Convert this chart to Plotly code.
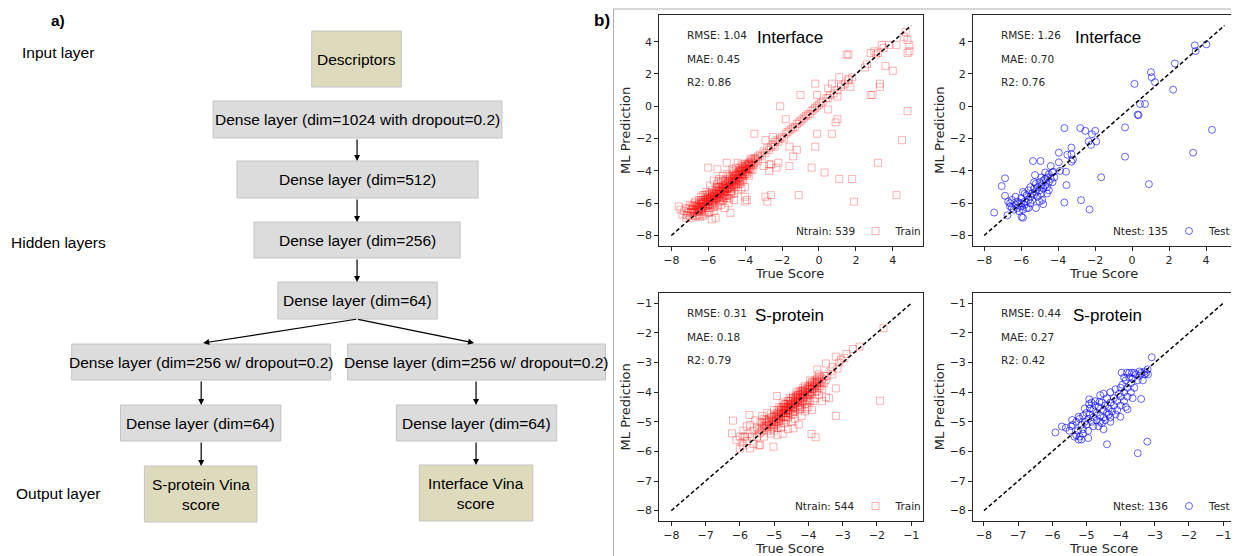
import plotly.graph_objects as go

W, H = 1236, 556

# ---------------- data ----------------
interface_train = [
    (-7.6,-6.2),(-7.5,-6.4),(-7.4,-6.7),(-7.3,-6.5),(-7.2,-6.9),(-7.2,-6.3),(-7.1,-6.6),(-7.0,-6.8),(-7.0,-6.1),
    (-6.9,-6.4),(-6.9,-6.9),(-6.8,-6.2),(-6.8,-6.6),(-6.7,-5.9),(-6.7,-6.4),(-6.7,-6.8),(-6.6,-6.1),(-6.6,-6.5),
    (-6.5,-5.8),(-6.5,-6.3),(-6.5,-6.7),(-6.4,-6.0),(-6.4,-6.4),(-6.4,-5.6),(-6.3,-6.2),(-6.3,-5.8),(-6.3,-6.8),
    (-6.2,-6.0),(-6.2,-5.5),(-6.2,-6.5),(-6.1,-5.9),(-6.1,-6.3),(-6.1,-5.3),(-6.0,-5.7),(-6.0,-6.1),(-6.0,-6.6),
    (-6.0,-3.8),(-5.9,-5.5),(-5.9,-5.9),(-5.9,-6.3),(-5.9,-4.9),(-5.8,-5.2),(-5.8,-5.7),(-5.8,-6.1),(-5.8,-7.0),
    (-5.7,-5.4),(-5.7,-5.8),(-5.7,-6.5),(-5.7,-4.6),(-5.6,-5.1),(-5.6,-5.5),(-5.6,-6.0),(-5.6,-6.9),(-5.5,-5.3),
    (-5.5,-5.7),(-5.5,-4.8),(-5.5,-3.9),(-5.5,-6.2),(-5.4,-5.0),(-5.4,-5.4),(-5.4,-5.9),(-5.4,-4.5),(-5.3,-5.2),
    (-5.3,-5.6),(-5.3,-4.7),(-5.3,-6.1),(-5.2,-4.9),(-5.2,-5.3),(-5.2,-5.8),(-5.2,-4.3),(-5.1,-5.1),(-5.1,-5.5),
    (-5.1,-4.6),(-5.1,-6.3),(-5.0,-4.8),(-5.0,-5.2),(-5.0,-5.7),(-5.0,-3.5),(-5.0,-4.2),(-4.9,-4.6),(-4.9,-5.0),
    (-4.9,-5.5),(-4.9,-6.0),(-4.8,-4.4),(-4.8,-4.9),(-4.8,-5.3),(-4.8,-6.6),(-4.7,-4.3),(-4.7,-4.7),(-4.7,-5.1),
    (-4.7,-3.9),(-4.6,-4.5),(-4.6,-4.9),(-4.6,-5.4),(-4.6,-5.8),(-4.5,-4.2),(-4.5,-4.6),(-4.5,-5.0),(-4.5,-3.8),
    (-4.4,-4.1),(-4.4,-4.5),(-4.4,-3.5),(-4.4,-5.2),(-4.3,-4.0),(-4.3,-4.4),(-4.3,-4.8),(-4.2,-3.9),(-4.2,-4.2),
    (-4.2,-3.6),(-4.2,-5.1),(-4.1,-3.8),(-4.1,-4.1),(-4.1,-4.6),(-4.0,-3.7),(-4.0,-4.0),(-4.0,-5.0),(-4.0,-5.6),
    (-4.0,-5.9),(-3.9,-3.6),(-3.9,-3.9),(-3.9,-5.8),(-3.8,-3.5),(-3.8,-3.8),(-3.8,-4.3),(-3.7,-3.4),(-3.7,-3.7),
    (-3.6,-3.3),(-3.6,-3.6),(-3.5,-3.2),(-3.5,-3.5),(-3.5,-1.7),(-3.4,-3.3),(-3.3,-3.1),(-3.3,-3.4),(-3.2,-3.0),
    (-3.1,-3.1),(-3.0,-2.8),(-3.0,-3.7),(-2.9,-2.9),(-2.9,-5.6),(-2.9,-2.1),(-2.8,-2.6),(-2.8,-5.9),(-2.7,-2.7),
    (-2.7,-3.6),(-2.7,-4.0),(-2.6,-2.5),(-2.6,-5.5),(-2.6,-3.6),(-2.5,-2.4),(-2.5,-1.9),(-2.4,-2.2),(-2.4,-2.5),
    (-2.3,-2.1),(-2.3,-3.8),(-2.2,-2.2),(-2.2,-3.5),(-2.1,-2.0),(-2.1,0.0),(-2.0,-1.9),(-1.9,-2.0),(-1.8,-1.7),
    (-1.8,-0.8),(-1.7,-1.6),(-1.6,-1.5),(-1.6,-2.5),(-1.5,-1.4),(-1.6,-3.7),(-1.4,-1.3),(-1.4,-3.1),(-1.3,-1.3),
    (-1.2,-1.1),(-1.2,-2.7),(-1.1,-1.0),(-1.0,-0.9),(-1.0,0.7),(-0.9,-0.8),(-1.1,-5.5),(-0.8,-0.7),(-0.7,-0.6),
    (-0.6,-0.5),(-0.5,-0.5),(-0.4,-0.3),(-0.4,-3.8),(-0.3,-0.2),(-0.2,-0.1),(-0.2,1.4),(-0.1,0.0),(-0.1,0.7),
    (-0.1,-1.7),(-0.2,-2.5),(0.0,0.1),(0.1,0.2),(0.2,0.3),(0.5,-0.2),(0.3,-4.1),(0.4,0.5),(0.5,1.1),(0.5,0.5),
    (0.6,0.7),(0.7,1.4),(0.7,-1.7),(0.8,0.8),(0.9,-1.0),(1.0,-0.8),(1.0,0.6),(1.0,1.0),(1.1,1.8),(1.1,-4.5),
    (1.2,1.2),(1.2,1.3),(1.4,1.4),(1.5,3.2),(1.6,3.2),(1.6,1.6),(1.6,1.7),(1.7,1.2),(1.8,1.8),(1.8,-4.5),
    (1.9,-5.9),(2.5,2.4),(2.6,2.6),(2.8,0.7),(2.9,0.7),(2.8,3.3),(3.0,3.4),(3.1,3.2),(3.2,3.3),(3.3,1.4),(3.3,1.2),
    (3.2,-3.5),(3.4,3.8),(3.5,3.6),(3.6,2.5),(3.8,3.8),(4.0,2.2),(4.2,3.8),(4.2,-5.5),(4.5,-2.1),(4.7,4.6),
    (4.8,4.1),(4.9,3.8),(4.8,3.3),(4.9,3.4),(4.8,-0.3),(4.6,4.3),
    (-6.95,-6.55),(-6.85,-6.35),(-6.75,-6.55),(-6.65,-6.25),(-6.55,-6.45),(-6.45,-6.15),(-6.35,-6.35),
    (-6.25,-5.95),(-6.15,-6.15),(-6.05,-5.85),(-5.95,-6.05),(-5.85,-5.65),(-5.75,-5.95),(-5.65,-5.45),
    (-5.55,-5.65),(-5.45,-5.25),(-5.35,-5.45),(-5.25,-5.05),(-5.15,-5.25),(-5.05,-4.85),(-4.95,-5.05),
    (-4.85,-4.65),(-4.75,-4.85),(-4.65,-4.45),(-4.55,-4.65),(-4.45,-4.25),(-4.35,-4.45),(-4.25,-4.05),
    (-4.15,-4.25),(-4.05,-3.85),(-3.95,-4.05),(-3.85,-3.65),(-3.75,-3.85),(-3.65,-3.45),(-3.55,-3.65),
    (-3.45,-3.25),(-6.9,-6.15),(-6.6,-6.75),(-6.3,-5.5),(-6.2,-6.7),(-6.05,-5.45),(-5.95,-6.55),(-5.8,-5.35),
    (-5.65,-6.15),(-5.5,-5.0),(-5.35,-5.85),(-5.2,-4.6),(-5.05,-5.55),(-4.9,-4.3),(-4.75,-5.25),(-4.6,-4.1),
    (-4.45,-4.85),(-4.3,-3.8),(-4.15,-4.5),(-4.0,-3.55),(-3.85,-4.1),(-3.7,-3.25),(-3.6,-3.95),
    (-6.5,-6.05),(-6.4,-6.25),(-6.3,-5.95),(-6.2,-6.2),(-6.1,-5.75),(-6.0,-5.95),(-5.9,-5.7),(-5.8,-5.9),
    (-5.7,-5.55),(-5.6,-5.7),(-5.5,-5.4),(-5.4,-5.55),(-5.3,-5.25),(-5.2,-5.45),(-5.1,-4.95),(-5.0,-5.1),
    (-4.9,-4.75),(-4.8,-5.0),(-4.7,-4.55),(-4.6,-4.75),(-4.5,-4.35),(-4.4,-4.6),(-4.3,-4.2),(-4.2,-4.4),
    (-4.1,-3.95),(-4.0,-4.2),
    (-6.8,-6.45),(-6.7,-6.15),(-6.6,-6.35),(-6.5,-6.55),(-6.4,-5.85),(-6.3,-6.05),(-6.2,-5.8),(-6.1,-6.05),
    (-6.0,-5.6),(-5.9,-5.8),(-5.8,-5.55),(-5.7,-5.7),(-5.6,-5.4),(-5.5,-5.6),(-5.4,-5.2),(-5.3,-5.4),
    (-5.2,-5.1),(-5.1,-5.3),(-5.0,-4.9),(-4.9,-5.1),(-4.8,-4.7),(-4.7,-4.9),(-4.6,-4.6),(-4.5,-4.8),
    (-4.4,-4.3),(-4.3,-4.6),(-4.2,-4.0),(-4.1,-4.3),(-4.0,-3.9),(-3.9,-4.2),(-3.8,-3.6),(-3.7,-3.9),
    (-6.55,-6.2),(-6.35,-6.5),(-6.15,-5.65),(-5.95,-5.4),(-5.75,-6.25),(-5.55,-5.2),(-5.35,-5.0),(-5.15,-5.7),
    (-4.95,-4.5),(-4.75,-5.45),(-4.55,-4.3),(-4.35,-4.1),(-4.15,-3.7),(-3.95,-3.75),(-3.75,-3.55),(-5.45,-4.65),
    (-5.25,-5.6),(-4.85,-5.7),(-4.65,-4.0),(-4.25,-4.7),(-6.75,-6.0),(-7.05,-6.35),(-7.15,-6.75),(-6.45,-6.85),
]

interface_test = [
    (-7.46,-6.58),(-7.05,-4.94),(-6.87,-4.46),(-6.87,-5.54),(-6.74,-6.75),(-6.7,-5.9),(-6.6,-6.2),(-6.6,-6.0),
    (-6.5,-6.3),(-6.5,-5.8),(-6.4,-6.4),(-6.3,-6.1),(-6.3,-5.6),(-6.2,-6.3),(-6.2,-5.9),(-6.1,-6.0),(-6.1,-6.5),
    (-6.0,-6.2),(-6.0,-5.7),(-6.0,-6.0),(-5.97,-6.85),(-5.9,-6.9),(-5.9,-5.3),(-5.9,-6.4),(-5.8,-5.9),(-5.8,-6.1),
    (-5.8,-5.4),(-5.7,-5.5),(-5.7,-6.3),(-5.6,-5.8),(-5.6,-5.2),(-5.6,-6.3),(-5.5,-5.6),(-5.5,-6.0),(-5.5,-5.0),
    (-5.4,-5.4),(-5.4,-5.8),(-5.36,-3.39),(-5.3,-5.1),(-5.3,-5.5),(-5.3,-4.7),(-5.25,-4.26),(-5.2,-5.3),(-5.2,-4.8),
    (-5.2,-6.3),(-5.1,-5.0),(-5.1,-5.6),(-5.0,-5.2),(-5.0,-4.7),(-5.0,-5.9),(-4.95,-3.39),(-4.9,-4.9),(-4.9,-5.4),
    (-4.9,-4.4),(-4.86,-5.81),(-4.81,-6.06),(-4.8,-4.6),(-4.8,-5.1),(-4.7,-4.5),(-4.7,-4.9),(-4.7,-4.1),(-4.6,-4.4),
    (-4.6,-5.0),(-4.6,-5.4),(-4.5,-4.2),(-4.5,-4.7),(-4.5,-5.2),(-4.4,-4.5),(-4.4,-3.7),(-4.3,-4.1),(-4.3,-4.7),
    (-4.27,-4.05),(-4.2,-4.4),(-3.96,-2.87),(-3.96,-3.47),(-3.9,-4.0),(-3.66,-1.35),(-3.66,-5.96),(-3.57,-4.05),
    (-3.55,-4.88),(-3.5,-3.0),(-3.28,-2.56),(-3.28,-2.97),(-3.28,-3.43),(-3.2,-3.3),(-2.8,-1.35),(-2.76,-5.81),
    (-2.53,-1.52),(-2.35,-2.18),(-2.3,-6.39),(-2.22,-2.39),(-2.17,-1.73),(-1.99,-1.52),(-1.94,-2.18),(-1.67,-4.4),
    (-0.38,-1.31),(-0.38,-3.12),(0.13,1.39),(0.3,-0.52),(0.35,-0.55),(0.43,0.14),(0.7,0.14),(0.91,-4.82),
    (1.02,2.11),(1.06,1.8),(1.24,1.49),(2.22,1.03),(2.31,2.65),(3.3,-2.87),(3.39,3.77),(3.44,3.42),(4.02,3.83),
    (4.32,-1.46),
]

sprotein_train = [
    (-6.2,-4.96),(-6.23,-5.39),(-6.1,-5.61),(-6.0,-5.5),(-6.0,-5.9),(-5.95,-5.7),(-5.9,-5.3),(-5.9,-5.8),
    (-5.89,-5.5),(-5.85,-5.5),(-5.8,-5.15),(-5.8,-5.65),(-5.75,-5.4),(-5.72,-4.77),(-5.7,-5.9),(-5.7,-5.1),
    (-5.65,-5.5),(-5.6,-5.3),(-5.6,-5.75),(-5.55,-4.95),(-5.5,-5.2),(-5.5,-5.5),(-5.45,-5.8),(-5.41,-5.78),
    (-5.4,-5.0),(-5.4,-5.35),(-5.35,-4.8),(-5.3,-5.15),(-5.3,-5.5),(-5.25,-4.95),(-5.2,-5.3),(-5.2,-4.7),
    (-5.15,-5.05),(-5.1,-5.4),(-5.1,-4.85),(-5.05,-5.2),(-5.02,-5.84),(-5.0,-4.6),(-5.0,-4.95),(-5.0,-5.3),
    (-4.95,-5.1),(-4.92,-4.13),(-4.9,-4.75),(-4.9,-5.45),(-4.85,-4.9),(-4.85,-4.5),(-4.8,-5.2),(-4.8,-4.65),
    (-4.75,-4.85),(-4.75,-5.4),(-4.7,-4.4),(-4.7,-4.7),(-4.7,-5.05),(-4.65,-4.55),(-4.6,-4.85),(-4.6,-4.3),
    (-4.6,-5.25),(-4.55,-4.6),(-4.5,-4.45),(-4.5,-4.75),(-4.5,-5.0),(-4.45,-4.2),(-4.44,-5.22),(-4.4,-4.55),
    (-4.4,-4.35),(-4.4,-4.9),(-4.35,-4.1),(-4.3,-4.45),(-4.3,-4.25),(-4.28,-5.09),(-4.25,-4.6),(-4.2,-4.0),
    (-4.2,-4.3),(-4.2,-4.8),(-4.15,-4.15),(-4.1,-3.95),(-4.1,-4.4),(-4.1,-4.65),(-4.05,-4.2),(-4.0,-3.85),
    (-4.0,-4.05),(-4.0,-4.5),(-3.95,-4.3),(-3.91,-5.41),(-3.9,-3.8),(-3.9,-4.0),(-3.9,-4.6),(-3.85,-3.9),
    (-3.8,-3.7),(-3.8,-4.2),(-3.79,-5.52),(-3.75,-3.95),(-3.74,-3.23),(-3.7,-3.6),(-3.7,-4.1),(-3.65,-3.8),
    (-3.6,-3.55),(-3.6,-4.3),(-3.55,-3.7),(-3.49,-3.03),(-3.49,-4.17),(-3.45,-3.45),(-3.4,-4.2),(-3.35,-3.3),
    (-3.3,-3.4),(-3.2,-2.8),(-3.2,-3.87),(-3.2,-4.8),(-3.15,-3.2),(-3.05,-2.9),(-2.89,-2.71),(-2.7,-2.54),
    (-2.51,-2.46),(-1.91,-4.29),(-1.81,-1.84),
    (-4.95,-4.9),(-4.85,-4.75),(-4.75,-4.6),(-4.65,-4.7),(-4.55,-4.45),(-4.45,-4.5),(-4.35,-4.35),(-4.25,-4.2),
    (-4.15,-4.05),(-4.05,-4.0),(-3.95,-3.9),(-3.85,-3.75),(-4.8,-4.8),(-4.7,-4.55),(-4.6,-4.6),(-4.5,-4.55),
    (-4.4,-4.4),(-4.3,-4.3),(-4.2,-4.15),(-4.1,-4.1),(-5.05,-4.85),(-5.15,-5.0),(-5.25,-5.2),(-5.35,-5.2),
    (-5.45,-5.4),(-4.9,-5.0),(-4.65,-4.95),(-4.45,-4.75),(-4.25,-4.45),(-4.05,-4.35),(-3.75,-3.65),(-3.65,-3.5),
    (-3.55,-3.45),(-3.6,-3.9),(-3.7,-3.85),(-3.5,-3.6),(-3.3,-3.15),(-3.1,-3.0),(-2.95,-2.85),
    (-5.45,-5.25),(-5.35,-5.3),(-5.25,-5.1),(-5.2,-5.0),(-5.1,-5.1),(-5.05,-4.95),(-5.0,-5.0),(-4.95,-4.8),
    (-4.9,-4.9),(-4.85,-4.65),(-4.8,-4.75),(-4.75,-4.7),(-4.7,-4.6),(-4.65,-4.6),(-4.6,-4.5),(-4.55,-4.5),
    (-4.5,-4.4),(-4.45,-4.35),(-4.4,-4.3),(-4.35,-4.25),(-4.3,-4.15),(-4.25,-4.1),(-4.2,-4.05),(-4.15,-3.95),
    (-4.1,-3.9),(-4.05,-3.9),(-4.0,-3.8),(-3.95,-3.75),(-3.9,-3.7),(-3.85,-3.65),(-3.8,-3.6),(-3.75,-3.55),
    (-3.7,-3.5),(-5.3,-4.9),(-5.2,-5.15),(-5.1,-4.75),(-5.0,-5.15),(-4.9,-4.6),(-4.8,-4.95),(-4.7,-4.45),
    (-4.6,-4.7),(-4.5,-4.25),(-4.4,-4.65),(-4.3,-4.1),(-4.2,-4.5),(-4.1,-3.8),(-4.0,-4.25),(-3.9,-3.65),
    (-3.8,-4.0),(-3.7,-3.4),(-3.6,-3.7),(-4.85,-5.05),(-4.75,-4.5),(-4.65,-4.85),(-4.55,-4.3),(-4.45,-4.65),
    (-4.35,-4.15),(-4.25,-4.55),(-4.15,-4.3),(-4.05,-4.55),(-3.95,-4.1),(-3.85,-4.3),(-3.75,-3.8),
    (-5.0,-4.8),(-4.9,-4.7),(-4.8,-4.55),(-4.7,-4.5),(-4.6,-4.4),(-4.5,-4.3),(-4.4,-4.2),(-4.3,-4.05),
    (-4.2,-3.95),(-4.1,-4.0),(-4.0,-3.9),(-3.9,-3.9),(-3.8,-3.8),(-4.95,-5.0),(-4.85,-4.85),(-4.75,-4.8),
    (-4.65,-4.65),(-4.55,-4.7),(-4.45,-4.55),(-4.35,-4.5),(-4.25,-4.35),(-4.15,-4.2),(-4.05,-4.1),(-3.95,-4.0),
    (-3.85,-3.85),(-5.15,-4.9),(-5.25,-5.0),(-5.35,-5.05),(-5.05,-5.1),(-4.75,-4.35),(-4.55,-4.2),(-4.35,-4.0),
    (-4.15,-3.85),(-3.95,-3.6),(-3.75,-3.7),(-3.65,-3.65),(-4.65,-4.4),(-4.45,-4.15),(-4.25,-3.95),(-5.1,-5.25),
    (-4.9,-5.2),(-4.7,-4.85),
]

sprotein_test = [
    (-3.09,-2.82),(-3.21,-3.23),(-3.25,-3.35),(-3.4,-4.23),(-3.8,-4.58),(-3.22,-5.67),(-3.5,-6.06),(-4.4,-5.76),
    (-4.5,-5.25),(-5.91,-5.36),(-5.72,-5.16),(-5.42,-4.94),(-5.23,-4.83),(-5.23,-5.6),(-5.1,-5.4),(-4.92,-4.24),
    (-4.92,-4.4),(-4.62,-4.33),(-3.97,-3.34),(-3.82,-3.34),(-3.67,-3.34),(-4.01,-4.83),(-4.3,-4.85),
    (-5.6,-5.2),(-5.5,-5.3),(-5.4,-5.1),(-5.35,-5.5),(-5.3,-5.0),(-5.25,-5.3),(-5.2,-4.9),(-5.2,-5.5),(-5.15,-5.1),
    (-5.1,-4.8),(-5.1,-5.25),(-5.05,-5.0),(-5.0,-4.7),(-5.0,-5.1),(-4.95,-4.9),(-4.95,-5.3),(-4.9,-4.55),
    (-4.9,-4.75),(-4.85,-5.0),(-4.8,-4.6),(-4.8,-4.85),(-4.8,-5.15),(-4.75,-4.45),(-4.7,-4.7),(-4.7,-4.95),
    (-4.65,-4.5),(-4.6,-4.8),(-4.6,-5.0),(-4.55,-4.35),(-4.5,-4.6),(-4.5,-4.05),(-4.5,-4.85),(-4.45,-4.45),
    (-4.4,-4.7),(-4.4,-4.2),(-4.35,-4.55),(-4.3,-4.35),(-4.3,-4.0),(-4.25,-4.65),(-4.2,-4.2),(-4.2,-4.45),
    (-4.15,-3.9),(-4.1,-4.3),(-4.1,-4.6),(-4.05,-4.05),(-4.0,-3.85),(-4.0,-4.15),(-4.0,-4.45),(-3.95,-3.75),
    (-3.9,-4.0),(-3.9,-4.3),(-3.85,-3.6),(-3.8,-3.85),(-3.8,-4.15),(-3.75,-3.5),(-3.7,-3.7),(-3.7,-4.0),
    (-3.65,-3.55),(-3.6,-3.85),(-3.55,-3.4),(-3.5,-3.6),(-3.45,-3.45),(-3.4,-3.35),(-3.35,-3.6),(-3.3,-3.4),
    (-3.2,-3.4),(-4.6,-4.1),(-4.75,-4.3),(-4.85,-4.35),(-4.65,-5.15),(-4.45,-4.95),(-4.35,-4.75),(-4.15,-4.75),
    (-4.55,-5.05),(-4.3,-5.0),(-5.05,-4.55),(-4.95,-5.55),(-5.15,-5.6),(-5.3,-5.45),(-5.45,-5.15),(-3.9,-3.5),
    (-3.75,-3.35),(-3.6,-3.35),(-3.45,-3.3),(-3.3,-3.3),(-3.85,-4.5),(-3.65,-4.2),
]

panel_titles = ["Interface", "Interface", "S-protein", "S-protein"]
rmse_vals = ["1.04", "1.26", "0.31", "0.44"]
mae_vals = ["0.45", "0.70", "0.18", "0.27"]
r2_vals = ["0.86", "0.76", "0.79", "0.42"]
count_labels = ["Ntrain: 539", "Ntest: 135", "Ntrain: 544", "Ntest: 136"]
legend_names = ["Train", "Test", "Train", "Test"]
ident_ranges = [(-8, 5), (-8, 5), (-8, -1), (-8, -1)]
tick_sets = [[-8, -6, -4, -2, 0, 2, 4], [-8, -6, -4, -2, 0, 2, 4],
             [-8, -7, -6, -5, -4, -3, -2, -1], [-8, -7, -6, -5, -4, -3, -2, -1]]

# ---------------- layout helpers (pixel -> paper) ----------------
def px(x):
    return x / W

def py(y):
    return 1 - y / H

NUM_FONT = "DejaVu Sans"
ARIAL = "Liberation Sans, Arial"
FLOW_SIZE = 15.5

panels = [
    dict(box=(662, 927, 15, 246), xr=[-8.65, 5.65], yr=[-8.65, 5.65]),
    dict(box=(977, 1236, 15, 246), xr=[-8.6, 5.35], yr=[-8.65, 5.65]),
    dict(box=(662, 927, 293, 521), xr=[-8.35, -0.65], yr=[-8.35, -0.65]),
    dict(box=(977, 1236, 293, 521), xr=[-8.32, -0.77], yr=[-8.35, -0.65]),
]

datasets = [interface_train, interface_test, sprotein_train, sprotein_test]
styles = [
    dict(symbol="square-open", color="rgb(255,0,0)", opacity=0.3, size=7),
    dict(symbol="circle-open", color="rgb(0,0,255)", opacity=0.6, size=7),
    dict(symbol="square-open", color="rgb(255,0,0)", opacity=0.3, size=7),
    dict(symbol="circle-open", color="rgb(0,0,255)", opacity=0.6, size=7),
]

fig = go.Figure()
layout = dict(
    width=W, height=H, margin=dict(l=0, r=0, t=0, b=0),
    paper_bgcolor="white", plot_bgcolor="white", showlegend=True,
)
annotations = []
shapes = []

for i, (p, data, st) in enumerate(zip(panels, datasets, styles)):
    n = "" if i == 0 else str(i + 1)
    l, r, t, b = p["box"]
    clipped = r >= W
    layout["xaxis" + n] = dict(
        domain=[px(l), px(r)], range=p["xr"], anchor="y" + n,
        showline=True, linecolor="#262626", linewidth=1, mirror=True,
        ticks="outside", ticklen=4, tickcolor="#262626", tickvals=tick_sets[i],
        tickfont=dict(family=NUM_FONT, size=11, color="#262626"),
        showgrid=False, zeroline=False, fixedrange=True,
    )
    layout["yaxis" + n] = dict(
        domain=[py(b), py(t)], range=p["yr"], anchor="x" + n,
        showline=True, linecolor="#262626", linewidth=1, mirror=(not clipped),
        ticks="outside", ticklen=4, tickcolor="#262626", tickvals=tick_sets[i],
        tickfont=dict(family=NUM_FONT, size=11, color="#262626"),
        showgrid=False, zeroline=False, fixedrange=True,
    )
    xs = [d[0] for d in data]
    ys = [d[1] for d in data]
    leg = "legend" + n
    fig.add_trace(go.Scatter(
        x=xs, y=ys, mode="markers", name=legend_names[i],
        xaxis="x" + n, yaxis="y" + n, legend=leg, showlegend=True,
        marker=dict(symbol=st["symbol"], size=st["size"], color=st["color"],
                    opacity=st["opacity"], line=dict(width=1, color=st["color"])),
    ))
    lo, hi = ident_ranges[i]
    fig.add_trace(go.Scatter(
        x=[lo, hi], y=[lo, hi], mode="lines", showlegend=False,
        xaxis="x" + n, yaxis="y" + n,
        line=dict(color="black", width=1.5, dash="4px,2.5px"),
    ))
    layout[leg] = dict(
        x=px(l + 197), y=py(b - 15), xanchor="left", yanchor="middle",
        bgcolor="rgba(0,0,0,0)", borderwidth=0,
        font=dict(family=NUM_FONT, size=10.5, color="#262626"),
    )
    sx = l + 26
    for txt, yy in zip(["RMSE: " + rmse_vals[i], "MAE: " + mae_vals[i], "R2: " + r2_vals[i]],
                       [t + 20, t + 44, t + 67]):
        annotations.append(dict(x=px(sx), y=py(yy), xref="paper", yref="paper", text=txt,
                                showarrow=False, xanchor="left", yanchor="middle",
                                font=dict(family=NUM_FONT, size=10.5, color="#262626")))
    tx = l + 131 if i % 2 == 0 else l + 135
    annotations.append(dict(x=px(tx), y=py(t + 22), xref="paper", yref="paper", text=panel_titles[i],
                            showarrow=False, xanchor="center", yanchor="middle",
                            font=dict(family=ARIAL, size=17, color="black")))
    annotations.append(dict(x=px(l + 198), y=py(b - 15), xref="paper", yref="paper", text=count_labels[i],
                            showarrow=False, xanchor="right", yanchor="middle",
                            font=dict(family=NUM_FONT, size=10.5, color="#262626")))
    annotations.append(dict(x=px(l + 131), y=py(b + 27), xref="paper", yref="paper", text="True Score",
                            showarrow=False, xanchor="center", yanchor="middle",
                            font=dict(family=NUM_FONT, size=13, color="#262626")))
    annotations.append(dict(x=px(l - 34), y=py((t + b) / 2), xref="paper", yref="paper",
                            text="ML Prediction", textangle=-90,
                            showarrow=False, xanchor="center", yanchor="middle",
                            font=dict(family=NUM_FONT, size=13, color="#262626")))

# frame around panel b
shapes.append(dict(type="line", xref="paper", yref="paper", x0=px(616), x1=px(616), y0=py(9), y1=0,
                   line=dict(color="#b0b0b0", width=1)))
shapes.append(dict(type="line", xref="paper", yref="paper", x0=px(616), x1=1, y0=py(9), y1=py(9),
                   line=dict(color="#b0b0b0", width=1)))
annotations.append(dict(x=px(604), y=py(20), xref="paper", yref="paper", text="<b>b)</b>",
                        showarrow=False, xanchor="center", yanchor="middle",
                        font=dict(family=ARIAL, size=17, color="black")))

# ---------------- flowchart (panel a) ----------------
BEIGE = "#dedbbc"
GRAY = "#dcdcdc"
boxes = [
    ("Descriptors", (313, 403, 31, 87), BEIGE),
    ("Dense layer (dim=1024 with dropout=0.2)", (214, 504, 101, 138), GRAY),
    ("Dense layer (dim=512)", (238, 480, 161, 198), GRAY),
    ("Dense layer (dim=256)", (255, 462, 222, 258), GRAY),
    ("Dense layer (dim=64)", (279, 439, 282, 319), GRAY),
    ("Dense layer (dim=256 w/ dropout=0.2)", (72, 332, 344, 380), GRAY),
    ("Dense layer (dim=256 w/ dropout=0.2)", (349, 608, 344, 380), GRAY),
    ("Dense layer (dim=64)", (121, 282, 405, 441), GRAY),
    ("Dense layer (dim=64)", (398, 559, 405, 441), GRAY),
    ("S-protein Vina<br>score", (145, 258, 466, 522), BEIGE),
    ("Interface Vina<br>score", (421, 535, 465, 521), BEIGE),
]
for txt, (x0, x1, y0, y1), col in boxes:
    shapes.append(dict(type="rect", xref="paper", yref="paper", x0=px(x0), x1=px(x1), y0=py(y1), y1=py(y0),
                       fillcolor=col, line=dict(color="#c4c4c4", width=1), layer="below"))
    annotations.append(dict(x=px((x0 + x1) / 2), y=py((y0 + y1) / 2), xref="paper", yref="paper",
                            text=txt, showarrow=False, xanchor="center", yanchor="middle",
                            font=dict(family=ARIAL, size=FLOW_SIZE, color="black")))

arrows = [
    (358.5, 138, 358.5, 161), (358.5, 198, 358.5, 222), (358.5, 258, 358.5, 282),
    (358.5, 319, 204, 343), (358.5, 319, 476, 343),
    (202, 380, 202, 405), (202, 441, 202, 466),
    (478, 380, 478, 405), (478, 441, 478, 465),
]
for tx0, ty0, hx, hy in arrows:
    annotations.append(dict(x=px(hx), y=py(hy), xref="paper", yref="paper", ax=tx0 - hx, ay=ty0 - hy,
                            axref="pixel", ayref="pixel", text="", showarrow=True,
                            arrowhead=2, arrowsize=1, arrowwidth=1.2, arrowcolor="black"))

side_labels = [("<b>a)</b>", 20), ("Input layer", 53), ("Hidden layers", 243), ("Output layer", 493)]
for txt, yy in side_labels:
    annotations.append(dict(x=px(58.5), y=py(yy), xref="paper", yref="paper", text=txt,
                            showarrow=False, xanchor="center", yanchor="middle",
                            font=dict(family=ARIAL, size=FLOW_SIZE, color="black")))

layout["annotations"] = annotations
layout["shapes"] = shapes
fig.update_layout(**layout)
fig.write_html("out.html")
